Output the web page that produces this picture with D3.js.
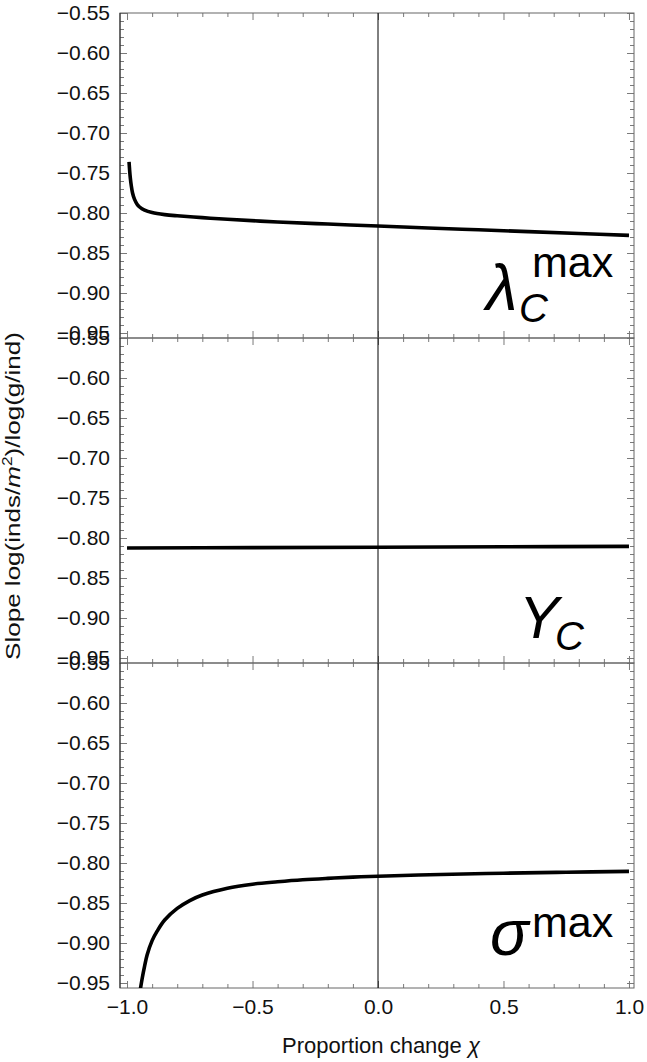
<!DOCTYPE html>
<html><head><meta charset="utf-8">
<script src="https://cdn.jsdelivr.net/npm/d3@7"></script>
<style>
body{margin:0;background:#fff;}
text{font-family:"Liberation Sans",Arial,Helvetica,sans-serif;}
</style></head>
<body><div id="chart"></div>
<script>
// ---- data ----
const yTickMajor = [-0.95,-0.90,-0.85,-0.80,-0.75,-0.70,-0.65,-0.60,-0.55];
const xTickMajor = [-1.0,-0.5,0.0,0.5,1.0];
const lambdaX = [-0.992,-0.990,-0.987,-0.983,-0.978,-0.97,-0.96,-0.95,-0.93,-0.90,-0.85,-0.80,-0.70,-0.60,-0.40,-0.20,0,0.2,0.4,0.6,0.8,1.0];
const lambdaY = [-0.736,-0.745,-0.756,-0.766,-0.775,-0.783,-0.789,-0.7925,-0.7965,-0.7995,-0.802,-0.8035,-0.8058,-0.8078,-0.8112,-0.8138,-0.8163,-0.8187,-0.821,-0.8233,-0.8256,-0.828];
const yieldX = [-1.0,-0.5,0,0.5,1.0];
const yieldY = [-0.8125,-0.8120,-0.8115,-0.8110,-0.8105];
const sigmaX = [-0.948,-0.94,-0.93,-0.92,-0.90,-0.88,-0.85,-0.80,-0.75,-0.70,-0.60,-0.50,-0.40,-0.30,-0.20,-0.10,0,0.25,0.5,0.75,1.0];
const sigmaY = [-0.960,-0.945,-0.929,-0.915,-0.897,-0.8852,-0.8713,-0.8568,-0.847,-0.840,-0.8315,-0.8265,-0.8235,-0.821,-0.8192,-0.8177,-0.8165,-0.8143,-0.8128,-0.8115,-0.8105];
const panelSeries = [[lambdaX,lambdaY],[yieldX,yieldY],[sigmaX,sigmaY]];
const xLabel = "Proportion change ";
const yLabel = "Slope log(inds/";

// ---- layout ----
const W=647,H=1062;
const left=120,right=634;
const panelTop=[13,338,663], panelH=325;
const yDomain=[-0.95625,-0.55];
const xDomain=[-1.028,1.02];

const svg=d3.select("#chart").append("svg").attr("width",W).attr("height",H);
const x=d3.scaleLinear().domain(xDomain).range([left,right]);
const xMinor=d3.range(-10,11).map(d=>d/10).filter(d=>!xTickMajor.some(m=>Math.abs(m-d)<1e-9));
const yMinor=d3.range(-95,-54).map(d=>d/100).filter(d=>!yTickMajor.some(m=>Math.abs(m-d)<1e-9));
const fmtY=d=>(d<0?"\u2212":"")+Math.abs(d).toFixed(2);
const fmtX=d=>(d<0?"\u2212":"")+Math.abs(d).toFixed(1);
const tickCol="#7a7a7a";

panelSeries.forEach((s,i)=>{
  const top=panelTop[i], bot=top+panelH;
  const y=d3.scaleLinear().domain(yDomain).range([bot,top]);
  const g=svg.append("g");
  const cid="clip"+i;
  svg.append("clipPath").attr("id",cid).append("rect").attr("x",left).attr("y",top).attr("width",right-left).attr("height",panelH);

  function styleAxis(sel){sel.select(".domain").remove();sel.selectAll(".tick line").attr("stroke",tickCol);sel.selectAll("text").attr("font-size",21).attr("fill","#111");}
  g.append("g").attr("transform",`translate(${left},0)`).call(d3.axisLeft(y).tickValues(yTickMajor).tickSize(-7).tickPadding(10).tickFormat(fmtY)).call(styleAxis);
  g.append("g").attr("transform",`translate(${left},0)`).call(d3.axisLeft(y).tickValues(yMinor).tickSize(-4).tickFormat("")).call(styleAxis);
  g.append("g").attr("transform",`translate(${right},0)`).call(d3.axisRight(y).tickValues(yTickMajor).tickSize(-7).tickFormat("")).call(styleAxis);
  g.append("g").attr("transform",`translate(${right},0)`).call(d3.axisRight(y).tickValues(yMinor).tickSize(-4).tickFormat("")).call(styleAxis);
  g.append("g").attr("transform",`translate(0,${top})`).call(d3.axisTop(x).tickValues(xTickMajor).tickSize(-7).tickFormat("")).call(styleAxis);
  g.append("g").attr("transform",`translate(0,${top})`).call(d3.axisTop(x).tickValues(xMinor).tickSize(-4).tickFormat("")).call(styleAxis);
  g.append("g").attr("transform",`translate(0,${bot})`).call(d3.axisBottom(x).tickValues(xTickMajor).tickSize(-7).tickPadding(11).tickFormat(i===2?fmtX:"")).call(styleAxis);
  g.append("g").attr("transform",`translate(0,${bot})`).call(d3.axisBottom(x).tickValues(xMinor).tickSize(-4).tickFormat("")).call(styleAxis);

  g.append("rect").attr("x",left).attr("y",top).attr("width",right-left).attr("height",panelH).attr("fill","none").attr("stroke","#666").attr("stroke-width",1);
  g.append("line").attr("x1",left).attr("x2",left).attr("y1",top).attr("y2",bot).attr("stroke","#222");
  g.append("line").attr("x1",x(0)).attr("x2",x(0)).attr("y1",top).attr("y2",bot).attr("stroke","#000").attr("stroke-width",1);
  const pts=s[0].map((d,k)=>[d,s[1][k]]);
  g.append("path").attr("clip-path",`url(#${cid})`).attr("d",d3.line().x(d=>x(d[0])).y(d=>y(d[1])).curve(d3.curveCatmullRom.alpha(0.5))(pts))
    .attr("fill","none").attr("stroke","#000").attr("stroke-width",3.6).attr("stroke-linejoin","round");
});

// annotations
const a1=svg.append("text").attr("x",486).attr("y",310).attr("fill","#000");
a1.append("tspan").attr("font-size",64).attr("font-style","italic").text("\u03bb");
a1.append("tspan").attr("font-size",40).attr("font-style","italic").attr("x",519).attr("y",322).text("C");
a1.append("tspan").attr("font-size",43).attr("x",532).attr("y",277).text("max");

const a2=svg.append("text").attr("x",519).attr("y",638).attr("fill","#000");
a2.append("tspan").attr("font-size",60).attr("font-style","italic").text("Y");
a2.append("tspan").attr("font-size",40).attr("font-style","italic").attr("x",555).attr("y",650).text("C");

const a3=svg.append("text").attr("x",490).attr("y",955).attr("fill","#000");
a3.append("tspan").attr("font-size",64).attr("font-style","italic").text("\u03c3");
a3.append("tspan").attr("font-size",43).attr("x",532).attr("y",937).text("max");

// axis labels
const xl=svg.append("text").attr("x",381).attr("y",1053).attr("text-anchor","middle").attr("font-size",22).attr("fill","#111");
xl.append("tspan").text(xLabel);
xl.append("tspan").attr("font-style","italic").text("\u03c7");

const yl=svg.append("text").attr("transform","translate(20,496) rotate(-90) scale(1.24,1)").attr("text-anchor","middle").attr("font-size",21).attr("fill","#111");
yl.append("tspan").text(yLabel);
yl.append("tspan").attr("font-style","italic").text("m");
yl.append("tspan").attr("font-size",14).attr("dy",-8).text("2");
yl.append("tspan").attr("dy",8).text(")/log(g/ind)");
</script></body></html>
